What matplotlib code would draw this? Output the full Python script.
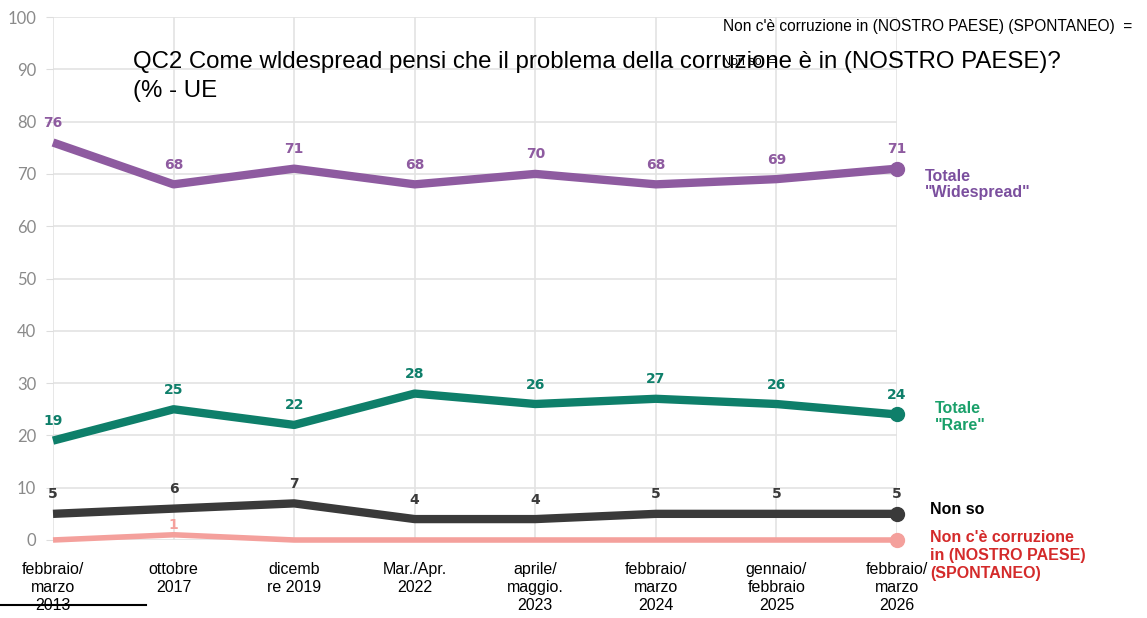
import matplotlib.pyplot as plt
from matplotlib.lines import Line2D

periodi = ["febbraio/\nmarzo\n2013", "ottobre\n2017", "dicemb\nre 2019", "Mar./Apr.\n2022",
           "aprile/\nmaggio.\n2023", "febbraio/\nmarzo\n2024", "gennaio/\nfebbraio\n2025", "febbraio/\nmarzo\n2026"]
widespread = [76, 68, 71, 68, 70, 68, 69, 71]
rare = [19, 25, 22, 28, 26, 27, 26, 24]
non_so = [5, 6, 7, 4, 4, 5, 5, 5]
non_corruzione = [0, 1, 0, 0, 0, 0, 0, 0]

fig = plt.figure(figsize=(11.47, 6.18), dpi=100)
ax = fig.add_axes([53 / 1147, 78 / 618, 844 / 1147, 523 / 618])

x = list(range(len(periodi)))

# (valori, colore, spessore, offset etichetta)
series = [
    (non_corruzione, "#F4A09C", 4.0, 2),
    (non_so, "#3A3A3A", 6.0, 9),
    (rare, "#0E7F6A", 6.0, 9),
    (widespread, "#8E5BA0", 6.0, 9),
]
for vals, col, lw, off in series:
    ax.plot(x, vals, color=col, lw=lw, solid_capstyle="butt", clip_on=False, zorder=3)
    ax.plot(x[-1], vals[-1], "o", color=col, ms=10, clip_on=False, zorder=4)
    for xi, v in zip(x, vals):
        if v == 0:
            continue
        ax.annotate(str(v), (xi, v), xytext=(0, off), textcoords="offset points",
                    ha="center", va="bottom", color=col, fontsize=10,
                    fontweight="bold", family="DejaVu Sans", zorder=6)

ax.set_xlim(0, len(periodi) - 1)
ax.set_ylim(0, 100)
ax.set_yticks(range(0, 101, 10))
ax.set_xticks(x)
ax.set_xticklabels(periodi, family="Liberation Sans", fontsize=11.5, linespacing=1.25)
ax.tick_params(axis="x", length=0, pad=16)
ax.tick_params(axis="y", length=5, color="#DDDDDD", labelcolor="#8A8A8A", labelsize=12, pad=7)
for lab in ax.get_yticklabels():
    lab.set_family("Lato")
ax.grid(True, color="#E3E3E3", lw=1.2)
ax.set_axisbelow(True)
for s in ax.spines.values():
    s.set_visible(False)

# etichette a destra
tr = ax.get_yaxis_transform()
ax.text(1.033, 71, "Totale\n\"Widespread\"", transform=tr, color="#7B4F9E",
        fontsize=11.5, fontweight="bold", family="Liberation Sans", va="top", linespacing=1.15)
ax.text(1.045, 26.5, "Totale\n\"Rare\"", transform=tr, color="#1AA06A",
        fontsize=11.5, fontweight="bold", family="Liberation Sans", va="top", linespacing=1.15)
ax.text(1.039, 5.8, "Non so", transform=tr, color="black",
        fontsize=11.5, fontweight="bold", family="Liberation Sans", va="center")
ax.text(1.039, 2.0, "Non c'è corruzione\nin (NOSTRO PAESE)\n(SPONTANEO)", transform=tr,
        color="#D42A2A", fontsize=11.5, fontweight="bold", family="Liberation Sans", va="top", linespacing=1.28)

fig.text(133 / 1147, 1 - 51 / 618,
         "QC2 Come wldespread pensi che il problema della corruzione è in (NOSTRO PAESE)?\n(% - UE",
         fontsize=17.3, family="Liberation Sans", va="top", linespacing=1.4)
fig.text(723 / 1147, 1 - 26 / 618, "Non c'è corruzione in (NOSTRO PAESE) (SPONTANEO)  =",
         fontsize=11.2, family="Liberation Sans", va="center")
fig.text(722 / 1147, 1 - 62 / 618, "Non so  =", fontsize=9, family="Liberation Sans", va="center")

fig.add_artist(Line2D([0, 146 / 1147], [1 - 605 / 618, 1 - 605 / 618], color="black", lw=1.5))

fig.savefig("out.png", dpi=100)
